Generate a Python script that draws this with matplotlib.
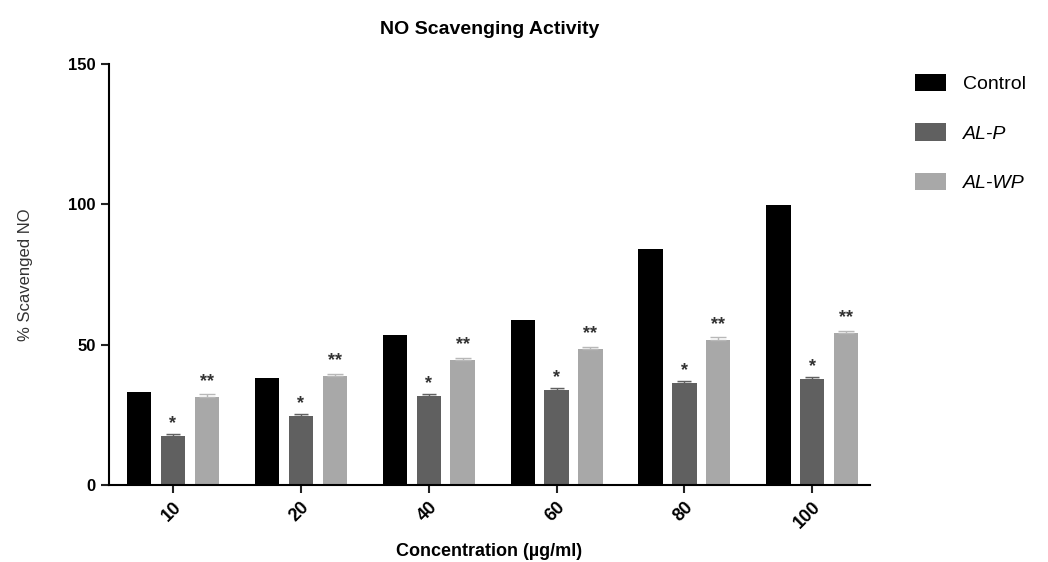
import matplotlib
matplotlib.use("Agg")
import matplotlib.pyplot as plt
import numpy as np

plt.rcParams['font.family'] = ['Liberation Sans', 'DejaVu Sans']

# Daten
concentrations = ['10', '20', '40', '60', '80', '100']
control = [33.1, 38.1, 53.4, 58.8, 84.1, 99.8]
al_p = [17.5, 24.6, 31.7, 33.8, 36.3, 37.8]
al_wp = [31.4, 38.8, 44.5, 48.4, 51.7, 54.1]
err_p = [0.6, 0.6, 0.6, 0.6, 0.6, 0.6]
err_wp = [0.9, 0.9, 0.9, 0.9, 1.2, 0.9]
signif_p = ['*'] * 6
signif_wp = ['**'] * 6

x = np.arange(len(concentrations))
w = 0.19
off = 0.265

fig = plt.figure(figsize=(10.48, 5.62), dpi=100)
ax = fig.add_axes([0.104, 0.137, 0.726, 0.749])

ax.bar(x - off, control, w, color='black', label='Control')
ax.bar(x, al_p, w, color='#606060', label='AL-P')
ax.bar(x + off, al_wp, w, color='#a8a8a8', label='AL-WP')
ax.errorbar(x, al_p, yerr=[np.zeros(6), err_p], fmt='none', ecolor='#606060',
            capsize=5, elinewidth=1)
ax.errorbar(x + off, al_wp, yerr=[np.zeros(6), err_wp], fmt='none', ecolor='#b8b8b8',
            capsize=6, elinewidth=1)

# Signifikanzsterne
for i in range(len(x)):
    ax.text(x[i], al_p[i] + 4.5, signif_p[i], ha='center', va='center',
            fontsize=13, fontweight='bold', color='#333333')
    ax.text(x[i] + off, al_wp[i] + 5.5, signif_wp[i], ha='center', va='center',
            fontsize=13, fontweight='bold', color='#333333')

ax.set_xlim(-0.5, 5.45)
ax.set_ylim(0, 150)
ax.set_yticks([0, 50, 100, 150])
ax.set_xticks(x)
ax.set_xticklabels(concentrations, rotation=45, ha='right', rotation_mode='anchor',
                   fontweight='bold', fontsize=13)
for lbl in ax.get_yticklabels():
    lbl.set_fontweight('bold')
    lbl.set_fontsize(12)

ax.spines['top'].set_visible(False)
ax.spines['right'].set_visible(False)
ax.spines['left'].set_linewidth(1.5)
ax.spines['bottom'].set_linewidth(1.5)
ax.tick_params(axis='both', direction='out', length=6, width=1.5, color='#222222')

ax.set_title('NO Scavenging Activity', fontsize=14, fontweight='bold', pad=22)
ax.set_ylabel('% Scavenged NO', fontsize=12, color='#333333')
ax.yaxis.set_label_coords(-0.1, 0.5)
ax.set_xlabel('Concentration (µg/ml)', fontsize=13, fontweight='bold', labelpad=8)

leg = fig.legend(loc='upper left', bbox_to_anchor=(0.856, 0.9), frameon=False,
                 fontsize=14, handlelength=1.6, handleheight=1.0,
                 labelspacing=1.55, handletextpad=0.9)
for t in leg.get_texts()[1:]:
    t.set_fontstyle('italic')

fig.savefig('out.png', dpi=100)
